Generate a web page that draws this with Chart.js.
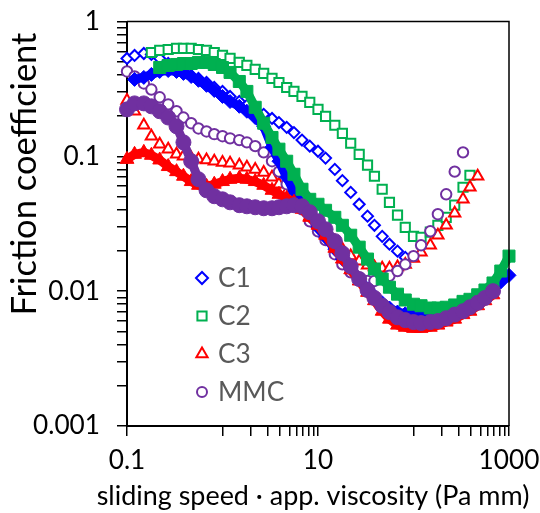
<!DOCTYPE html>
<html><head><meta charset="utf-8">
<script src="https://cdn.jsdelivr.net/npm/chart.js@4.4.0/dist/chart.umd.min.js"></script>
<style>html,body{margin:0;padding:0;background:#fff;}canvas{display:block;}</style>
</head><body>
<canvas id="c" width="540" height="513"></canvas>
<script>
// ---- tick values and labels ----
const xTickValues = [0.1,1,2,3,4,5,6,7,8,9,10,100,200,300,400,500,600,700,800,900,1000];
const xTickLabels = ['0.1','10','1000'];
const yTickValues = [0.001,0.002,0.003,0.004,0.005,0.006,0.007,0.008,0.009,0.01,0.02,0.03,0.04,0.05,0.06,0.07,0.08,0.09,0.1,0.2,0.3,0.4,0.5,0.6,0.7,0.8,0.9,1];
const yTickLabels = ['0.001','0.01','0.1','1'];
const xTitle = 'sliding speed · app. viscosity (Pa mm)';
const yTitle = 'Friction coefficient';
const legendNames = ['C1','C2','C3','MMC'];

// ---- series values ----
const c1OpenX = [0.1,0.12,0.15,0.18,0.22,0.27,0.33,0.39,0.47,0.56,0.68,0.82,1,1.2,1.5,1.8,2.2,2.7,3.3,3.9,4.7,5.6,6.8,8.2,10,12,15,18,22,27,33,39,47,56,68,82];
const c1OpenY = [0.532,0.560,0.579,0.570,0.532,0.488,0.448,0.426,0.398,0.378,0.353,0.324,0.303,0.278,0.255,0.239,0.219,0.205,0.191,0.178,0.164,0.150,0.132,0.119,0.109,0.097,0.080,0.066,0.054,0.0441,0.036,0.0308,0.0255,0.0223,0.0198,0.0178];

const c1FillX = [0.12,0.15,0.18,0.22,0.27,0.33,0.39,0.47,0.56,0.68,0.82,1,1.2,1.5,1.8,2.2,2.7,3.3,3.9,4.7,5.6,6.8,8.2,10,12,15,18,22,27,33,39,47,56,68,82,100,120,150,180,220,270,330,390,470,560,680,820,1000];
const c1FillY = [0.372,0.385,0.405,0.426,0.433,0.426,0.412,0.391,0.366,0.336,0.308,0.278,0.255,0.235,0.216,0.194,0.167,0.117,0.092,0.070,0.055,0.0441,0.036,0.0297,0.0251,0.0205,0.0173,0.0146,0.0123,0.0104,0.0092,0.0082,0.0075,0.0070,0.0068,0.0067,0.0067,0.0068,0.0069,0.0072,0.0076,0.0080,0.0085,0.0090,0.0097,0.0105,0.0117,0.0131];

const c2OpenX = [0.18,0.22,0.27,0.33,0.39,0.47,0.56,0.68,0.82,1,1.2,1.5,1.8,2.2,2.7,3.3,3.9,4.7,5.6,6.8,8.2,10,12,15,18,22,27,33,39,47,56,68,82,100,120,150,180,220,270,330,390];
const c2OpenY = [0.589,0.610,0.620,0.631,0.631,0.631,0.620,0.610,0.589,0.560,0.532,0.497,0.472,0.441,0.412,0.378,0.353,0.324,0.303,0.278,0.251,0.223,0.198,0.170,0.148,0.125,0.1035,0.086,0.0712,0.057,0.0456,0.0366,0.0297,0.0255,0.0251,0.0274,0.0308,0.0353,0.0434,0.059,0.0724];

const c2FillX = [0.22,0.27,0.33,0.39,0.47,0.56,0.68,0.82,1,1.2,1.5,1.8,2.2,2.7,3.3,3.9,4.7,5.6,6.8,8.2,10,12,15,18,22,27,33,39,47,56,68,82,100,120,150,180,220,270,330,390,470,560,680,820,1000];
const c2FillY = [0.456,0.472,0.480,0.488,0.488,0.497,0.497,0.480,0.456,0.419,0.359,0.303,0.231,0.176,0.138,0.113,0.092,0.0736,0.057,0.048,0.0441,0.0398,0.0353,0.0308,0.026,0.0212,0.0173,0.0146,0.0123,0.0107,0.0095,0.0086,0.0080,0.0078,0.0075,0.0075,0.0076,0.0079,0.0084,0.0087,0.0094,0.0102,0.0115,0.0141,0.0182];

const c3OpenX = [0.1,0.12,0.15,0.18,0.22,0.27,0.33,0.39,0.47,0.56,0.68,0.82,1,1.2,1.5,1.8,2.2,2.7,3.3,3.9,4.7,5.6,6.8,8.2,10,12,15,18,22,27,33,39,47,56,68,82,100,120,150,180,220,270,330,390,470];
const c3OpenY = [0.260,0.216,0.170,0.141,0.123,0.113,0.1035,0.100,0.097,0.095,0.094,0.092,0.090,0.089,0.086,0.083,0.080,0.076,0.070,0.0621,0.054,0.0472,0.0412,0.036,0.0313,0.0274,0.0235,0.0205,0.0182,0.0167,0.0156,0.0151,0.0148,0.0148,0.0151,0.0158,0.0175,0.0194,0.0219,0.026,0.0308,0.0378,0.048,0.059,0.0712];

const c3FillX = [0.1,0.12,0.15,0.18,0.22,0.27,0.33,0.39,0.47,0.56,0.68,0.82,1,1.2,1.5,1.8,2.2,2.7,3.3,3.9,4.7,5.6,6.8,8.2,10,12,15,18,22,27,33,39,47,56,68,82,100,120,150,180,220,270,330,390,470,560,680];
const c3FillY = [0.095,0.1035,0.107,0.1018,0.094,0.084,0.077,0.0712,0.065,0.061,0.060,0.0621,0.065,0.0676,0.0688,0.0676,0.065,0.061,0.056,0.0523,0.0488,0.0456,0.0405,0.0353,0.0308,0.026,0.0208,0.0173,0.0144,0.0119,0.0098,0.0085,0.0071,0.0062,0.0056,0.0054,0.0053,0.0053,0.0054,0.0056,0.0059,0.0062,0.0067,0.0071,0.0078,0.0085,0.0094];

const mmcOpenX = [0.1,0.12,0.15,0.18,0.22,0.27,0.33,0.39,0.47,0.56,0.68,0.82,1,1.2,1.5,1.8,2.2,2.7,3.3,3.9,4.7,5.6,6.8,8.2,10,12,15,18,22,27,33,39,47,56,68,82,100,120,150,180,220,270,330];
const mmcOpenY = [0.426,0.391,0.347,0.313,0.274,0.243,0.216,0.194,0.176,0.161,0.153,0.146,0.141,0.136,0.132,0.127,0.119,0.107,0.092,0.077,0.0621,0.0506,0.0405,0.033,0.0278,0.0239,0.0188,0.0158,0.0138,0.0126,0.0119,0.0119,0.0123,0.013,0.0141,0.0158,0.0182,0.0219,0.0278,0.0372,0.0523,0.077,0.107];

const mmcFillX = [0.1,0.12,0.15,0.18,0.22,0.27,0.33,0.39,0.47,0.56,0.68,0.82,1,1.2,1.5,1.8,2.2,2.7,3.3,3.9,4.7,5.6,6.8,8.2,10,12,15,18,22,27,33,39,47,56,68,82,100,120,150,180,220,270,330,390,470,560,680];
const mmcFillY = [0.223,0.247,0.247,0.235,0.216,0.194,0.167,0.127,0.092,0.0676,0.056,0.0506,0.048,0.0456,0.0434,0.0426,0.0419,0.0412,0.0412,0.0419,0.0426,0.0434,0.0426,0.0385,0.033,0.0288,0.0235,0.0191,0.0153,0.0123,0.0102,0.0089,0.0078,0.007,0.0064,0.0061,0.0059,0.0058,0.0059,0.006,0.0063,0.0067,0.0071,0.0076,0.0082,0.0089,0.0100];

// ---- styles ----
const BLUE = '#0000FF', GREEN = '#00B050', RED = '#FF0000', PURPLE = '#7030A0';
const FONT = 'Lato';
const mctx = document.createElement('canvas').getContext('2d');
function widthAt(text, size){ mctx.font = size + 'px ' + FONT; return mctx.measureText(text).width; }
const baseSize = 100 * 67 / widthAt('0.001', 100);
const xTitleSize = 100 * 433 / widthAt(xTitle, 100);
const yTitleSize = 100 * 283 / widthAt(yTitle, 100);

function series(label, xs, ys, color, style, radius, filled, order){
  return {
    label, order,
    data: xs.map((x, i) => ({x: x, y: ys[i]})),
    showLine: filled,
    borderColor: color,
    borderWidth: filled ? 9 : 0,
    borderJoinStyle: 'round',
    borderCapStyle: 'round',
    pointStyle: style,
    pointRadius: radius,
    pointBorderWidth: filled ? 1 : 2,
    pointBorderColor: color,
    pointBackgroundColor: filled ? color : '#FFFFFF',
    clip: false
  };
}

const datasets = [
  series('C1', c1OpenX, c1OpenY, BLUE, 'rectRot', 5.5, false, 8),
  series('C2', c2OpenX, c2OpenY, GREEN, 'rect', 6.5, false, 7),
  series('C3', c3OpenX, c3OpenY, RED, 'triangle', 6.5, false, 6),
  series('MMC', mmcOpenX, mmcOpenY, PURPLE, 'circle', 5.2, false, 5),
  series('C1 filled', c1FillX, c1FillY, BLUE, 'rectRot', 7, true, 4),
  series('C2 filled', c2FillX, c2FillY, GREEN, 'rect', 8.5, true, 3),
  series('C3 filled', c3FillX, c3FillY, RED, 'triangle', 8, true, 2),
  series('MMC filled', mmcFillX, mmcFillY, PURPLE, 'circle', 7.5, true, 1)
];
const legendStyles = [
  {color: BLUE, style: 'rectRot', r: 6},
  {color: GREEN, style: 'rect', r: 6.5},
  {color: RED, style: 'triangle', r: 6.5},
  {color: PURPLE, style: 'circle', r: 5}
];

function drawMarker(ctx, style, x, y, r){
  ctx.beginPath();
  if (style === 'circle') ctx.arc(x, y, r, 0, Math.PI * 2);
  else if (style === 'rect') { const s = r * Math.SQRT1_2; ctx.rect(x - s, y - s, 2 * s, 2 * s); }
  else if (style === 'rectRot') { ctx.moveTo(x - r, y); ctx.lineTo(x, y - r); ctx.lineTo(x + r, y); ctx.lineTo(x, y + r); ctx.closePath(); }
  else if (style === 'triangle') {
    let a = 0; ctx.moveTo(x + Math.sin(a) * r, y - Math.cos(a) * r);
    a += 2 * Math.PI / 3; ctx.lineTo(x + Math.sin(a) * r, y - Math.cos(a) * r);
    a += 2 * Math.PI / 3; ctx.lineTo(x + Math.sin(a) * r, y - Math.cos(a) * r);
    ctx.closePath();
  }
  ctx.fill(); ctx.stroke();
}

const decor = {
  id: 'decor',
  afterDraw(chart){
    const {ctx, chartArea: a} = chart;
    ctx.save();
    ctx.strokeStyle = '#000'; ctx.lineWidth = 1.5;
    ctx.beginPath(); ctx.moveTo(a.left, a.top); ctx.lineTo(a.right, a.top); ctx.lineTo(a.right, a.bottom); ctx.stroke();
    // axis titles
    ctx.fillStyle = '#000'; ctx.textAlign = 'center'; ctx.textBaseline = 'middle';
    ctx.font = xTitleSize + 'px ' + FONT;
    ctx.fillText(xTitle, 313, 496);
    ctx.save(); ctx.translate(25, 174); ctx.rotate(-Math.PI / 2);
    ctx.font = yTitleSize + 'px ' + FONT;
    ctx.fillText(yTitle, 0, 0);
    ctx.restore();
    // legend
    ctx.textAlign = 'left';
    ctx.font = baseSize + 'px ' + FONT;
    legendNames.forEach((name, i) => {
      const y = 278 + 38 * i;
      const st = legendStyles[i];
      ctx.strokeStyle = st.color; ctx.fillStyle = '#FFFFFF'; ctx.lineWidth = 2;
      drawMarker(ctx, st.style, 202, y, st.r);
      ctx.fillStyle = '#595959';
      ctx.fillText(name, 218, y + 1);
    });
    ctx.restore();
  }
};

new Chart(document.getElementById('c'), {
  type: 'scatter',
  data: { datasets },
  options: {
    responsive: false, animation: false, devicePixelRatio: 1, events: [],
    layout: { padding: { top: 21.5, right: 31, left: 0, bottom: 0 } },
    plugins: { legend: { display: false }, tooltip: { enabled: false } },
    scales: {
      x: {
        type: 'logarithmic', min: 0.1, max: 1000,
        afterBuildTicks: s => { s.ticks = xTickValues.map(v => ({value: v})); },
        afterFit: s => { s.height = 87; s.paddingLeft = 0; s.paddingRight = 0; },
        ticks: {
          autoSkip: false, maxRotation: 0, minRotation: 0, padding: 9, color: '#000',
          font: { family: FONT, size: baseSize },
          callback: v => { const t = String(v); return xTickLabels.includes(t) ? t : ''; }
        },
        grid: { drawOnChartArea: false, drawTicks: true, tickLength: 10, color: '#000', lineWidth: 1.5 },
        border: { display: true, color: '#000', width: 2 }
      },
      y: {
        type: 'logarithmic', min: 0.001, max: 1,
        afterBuildTicks: s => { s.ticks = yTickValues.map(v => ({value: v})); },
        afterFit: s => { s.width = 127; s.paddingTop = 0; s.paddingBottom = 0; },
        ticks: {
          autoSkip: false, padding: 17, color: '#000',
          font: { family: FONT, size: baseSize },
          callback: v => { const t = String(v); return yTickLabels.includes(t) ? t : ''; }
        },
        grid: { drawOnChartArea: false, drawTicks: true, tickLength: 10, color: '#000', lineWidth: 1.5 },
        border: { display: true, color: '#000', width: 2 }
      }
    }
  },
  plugins: [decor]
});
</script>
</body></html>
